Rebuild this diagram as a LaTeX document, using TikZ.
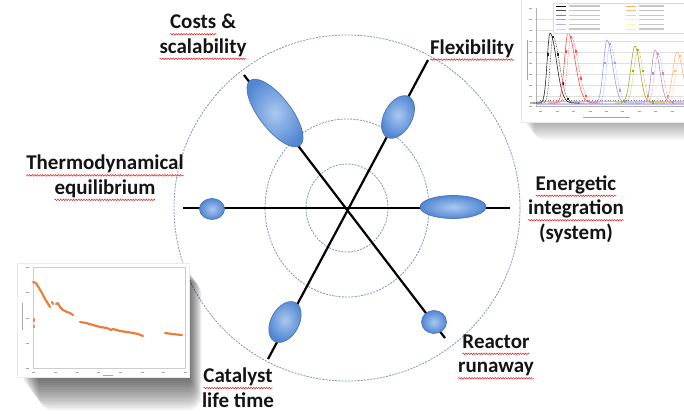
\documentclass[tikz,border=0pt]{standalone}
\usepackage{fontspec}
\setmainfont{Carlito}
\usetikzlibrary{shapes.geometric,decorations.pathmorphing}
\definecolor{ringcol}{HTML}{8494B2}
\definecolor{blobline}{HTML}{4A76B8}
\definecolor{bloblight}{HTML}{A9C8F0}
\definecolor{blobdark}{HTML}{5286D2}
\definecolor{txt}{HTML}{141414}
\definecolor{plotorange}{HTML}{E8803A}
\definecolor{spellred}{HTML}{E02020}
\newcommand\spl[1]{\tikz[baseline=(sqw.base),x=1pt,y=1pt]{\node[inner sep=0pt,outer sep=0pt] (sqw) {#1};
  \draw[spellred,line width=0.5pt,decorate,decoration={snake,amplitude=0.8pt,segment length=2.6pt}] ([yshift=-5.5pt]sqw.base west) -- ([yshift=-5.5pt]sqw.base east);}}
\begin{document}
\begin{tikzpicture}[x=1pt,y=-1pt,
  ring/.style={draw=ringcol,line width=0.8pt,dash pattern=on 2pt off 1.2pt},
  spoke/.style={line width=2.2pt,black},
  blob/.style={ellipse,draw=blobline,line width=0.7pt,inner color=bloblight,outer color=blobdark,inner sep=0pt},
  lab/.style={font=\fontsize{21}{24.5}\selectfont\bfseries,text=txt,align=center,inner sep=0pt},
  panel/.style={fill=white,draw=black!8,line width=0.4pt},
  grid/.style={draw=black!12,line width=0.4pt},
  tick/.style={draw=black!35,line width=0.9pt},
  data/.style={plotorange,line width=2.2pt,line cap=round,line join=round}]
\useasboundingbox (0,0) rectangle (684,414);
\fill[white] (0,0) rectangle (684,414);

% ---------- top-right chart (shadow, panel, curves)
\foreach \i in {1,...,10}
  \fill[black,opacity=0.035,rounded corners=\i] (524+\i,4+\i) rectangle (692,121+1.9*\i);
\node[panel,minimum width=170,minimum height=128,anchor=north west] (trpanel) at (521,-6) {};
\foreach \yy in {19,30,41,52,63,74,85,96}
  \draw[grid] (536,\yy) -- (690,\yy);
\draw[black!30,line width=0.5pt] (536,8) -- (536,106) -- (690,106);
\foreach \yy in {8,19,30,41,52,63,74,85,96,106}
  \draw[tick,line width=0.7pt] (529,\yy) -- (532,\yy);
\foreach \xx in {540,557,573,590,606,622,639,655,672}
  \draw[tick,line width=0.7pt] (\xx-1.5,111) -- (\xx+1.5,111);
\draw[black!35,line width=0.8pt] (527,40) -- (527,80);
\draw[black!35,line width=1pt] (583,118) -- (630,118);
% baselines
\draw[orange!45,line width=0.8pt] (536,103) -- (690,103);
\draw[red!35,line width=0.6pt] (536,101) -- (690,101);
\draw[blue!25,line width=0.6pt] (536,104.5) -- (690,104.5);
\draw[black!50,line width=0.6pt,dotted] (540,100) -- (690,100);
% peaks
\foreach \c/\t/\wa/\wb/\col in {550/33/4/9/black!85,568/33/5/10/red!70,607/40/5/8/blue!40,635/46/6/7/olive!40!yellow!80!black,655/50/5/7/violet!45,677/52/6/8/orange!55}{
  \draw[\col,line width=0.6pt] plot[domain=\c-20:\c,samples=25] (\x,{103-(103-\t)*exp(-1*((\x-\c)/\wa)*((\x-\c)/\wa))})
     -- plot[domain=\c:\c+30,samples=30] (\x,{103-(103-\t)*exp(-1*((\x-\c)/\wb)*((\x-\c)/\wb))});
  \draw[\col,line width=0.6pt,densely dotted] plot[domain=\c-17:\c+3,samples=25] (\x,{103-(103-\t-4)*exp(-1*((\x-\c-3)/\wa)*((\x-\c-3)/\wa))})
     -- plot[domain=\c+3:\c+35,samples=30] (\x,{103-(103-\t-4)*exp(-1*((\x-\c-3)/\wb)*((\x-\c-3)/\wb))});
  \foreach \d in {-5,0,5,10,15}
    \fill[\col] ({\c+3+\d-1.3},{103-(103-\t-4)*exp(-1*(\d/\wb)*(\d/\wb))-1.3}) rectangle ++(2.6,2.6);
}
% legend
\node[panel,draw=black!15,minimum width=134,minimum height=30,anchor=north west] (legend) at (553,3) {};
\foreach \r/\ca/\cb in {0/black/orange!60,1/black!70/orange!50,2/black!50/orange!40,3/black!35/yellow!50,4/blue!30/yellow!35,5/blue!20/orange!25}{
  \draw[\ca,line width=0.7pt] (556,{6+4.6*\r}) -- (566,{6+4.6*\r});
  \draw[black!22,line width=1.2pt] (569,{6+4.6*\r}) -- (600,{6+4.6*\r});
  \draw[\cb,line width=0.7pt] (626,{6+4.6*\r}) -- (636,{6+4.6*\r});
  \draw[black!22,line width=1.2pt] (639,{6+4.6*\r}) -- (664,{6+4.6*\r});
}

% ---------- rings, spokes, blobs
\coordinate (C) at (347,208);
\draw[ring] (C) circle[radius=173];
\draw[ring] (C) ellipse[x radius=82,y radius=89];
\draw[ring] (C) ellipse[x radius=41,y radius=44];
\coordinate (a1) at (244,75);  \coordinate (a2) at (445,338);
\coordinate (b1) at (428,60);  \coordinate (b2) at (268,359);
\coordinate (h1) at (183,208); \coordinate (h2) at (510,208);
\draw[spoke] (a1) -- (a2);
\draw[spoke] (b1) -- (b2);
\draw[spoke] (h1) -- (h2);
\node[blob,minimum width=82,minimum height=32,rotate=127.6] (costs) at (275,113) {};
\node[blob,minimum width=46,minimum height=28,rotate=61.5] (flex) at (398,117) {};
\node[blob,minimum width=66,minimum height=23] (energ) at (453,207) {};
\node[blob,minimum width=25,minimum height=21] (thermo) at (212,209) {};
\node[blob,minimum width=44,minimum height=28,rotate=61.5] (cat) at (285,322) {};
\node[blob,minimum width=25,minimum height=23] (react) at (434,322) {};

% ---------- lower-left chart
\foreach \i in {1,...,14}
  \fill[black,opacity=0.05,rounded corners=\i] (22+1.2*\i,272+0.6*\i) rectangle (189+0.9*\i,378+2.3*\i);
\node[panel,minimum width=172,minimum height=114,anchor=north west] (llpanel) at (17,263) {};
\draw[black!20,line width=0.5pt] (33,267) rectangle (185,368);
\foreach \yy in {267,292,318,343,368}
  \draw[tick,line width=0.7pt] (26,\yy) -- (29,\yy);
\foreach \xx in {33,55,77,98,120,142,163,185}
  \draw[tick,line width=0.7pt] (\xx-1.5,372) -- (\xx+1.5,372);
\draw[black!35,line width=0.8pt] (22,303) -- (22,330);
\draw[black!35,line width=0.8pt] (103,375) -- (113,375);
\draw[data] (33,282) -- (36,283) -- (39,288) -- (42,293) -- (45,299) -- (47,302) -- (50,307);
\draw[data] (52,302) -- (53,304);
\draw[data] (56,304) -- (58,303) -- (60,307) -- (63,310) -- (67,312) -- (70,313) -- (73,315);
\draw[data] (80,322) -- (86,323) -- (93,325) -- (100,327) -- (107,328) -- (111,330) -- (113,329) -- (120,331) -- (127,332) -- (133,333) -- (138,334) -- (143,336);
\draw[data] (165,333) -- (172,334) -- (182,335);
\draw[data] (34,319) -- (34,321);
\draw[data] (34,326) -- (34,327);

% ---------- labels
\node[lab] (lcosts) at (203,37) {\spl{Costs} \&\\\spl{scalability}};
\node[lab] (lflex) at (472,50) {\spl{Flexibility}};
\node[lab] (lthermo) at (105,178) {\spl{Thermodynamical}\\\spl{equilibrium}};
\node[lab] (lenerg) at (576,209) {\spl{Energetic}\\\spl{integration}\\(system)};
\node[lab] (lreact) at (496,357) {\spl{Reactor}\\\spl{runaway}};
\node[lab] (lcat) at (238,387.5) {\spl{Catalyst}\\life time};
\end{tikzpicture}
\end{document}
